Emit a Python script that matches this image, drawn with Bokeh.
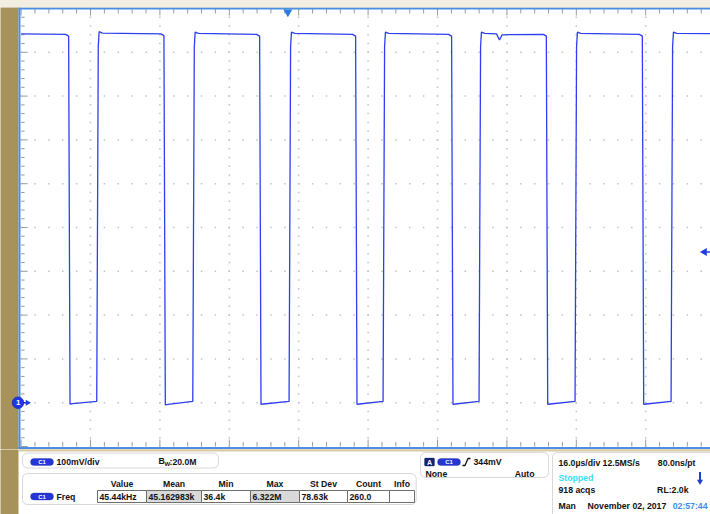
import numpy as np
from bokeh.plotting import figure
from bokeh.models import Range1d, BoxAnnotation, Spacer
from bokeh.layouts import column
from bokeh.embed import file_html
from bokeh.resources import INLINE
from bokeh.core.properties import value

time_per_div_us = 16.0
volts_per_div_mv = 100.0
n_hdiv = 10
n_vdiv = 10
ground_div_from_bottom = 1          # channel 1 ground marker is one division above bottom

fall_times_us = [11.16, 33.13, 55.19, 77.32, 99.45, 121.29, 143.42]
rise_times_us = [17.54, 39.68, 61.88, 83.55, 105.68, 127.81, 149.95]
high_level_mv = [842, 843, 842, 842, 842, 842, 842, 842]
low_start_mv = [-3, -5, -4, -4, -4, -4, -4]
low_end_mv = [3, 3, 3, 3, 3, 3, 3]
dip_times_us = [109.6, 110.3, 110.9]
dip_levels_mv = [842, 828, 840]

trigger_time_us = 61.5
trigger_level_mv = 344

# readout texts
ch_label = "C1"
ch_scale_text = "100mV/div"
bw_text = ":20.0M"
meas_name = "Freq"
meas_headers = ["Value", "Mean", "Min", "Max", "St Dev", "Count", "Info"]
meas_values = ["45.44kHz", "45.162983k", "36.4k", "6.322M", "78.63k", "260.0", ""]
trig_level_text = "344mV"
trig_coupling = "None"
trig_mode = "Auto"
timebase_text = "16.0\u00b5s/div"
sample_rate_text = "12.5MS/s"
ns_per_pt_text = "80.0ns/pt"
acq_state = "Stopped"
acq_count_text = "918 acqs"
record_length_text = "RL:2.0k"
trig_type_text = "Man"
date_text = "November 02, 2017"
time_text = "02:57:44"

# ---------------- styles ----------------
FONT = "Liberation Sans"
FSIZE = "8.7px"
BROWN = "#A8925C"
CREAM = "#F3EEE2"
BORDER_BLUE = "#4A8FE3"
TRACE = "#2C3EF0"
MARKER_BLUE = "#1F3FE0"
DOT = "#C2C2C2"
TICK = "#9A9A9A"
W = 710
FRAME_LEFT = 0

# ---------------- trace from the read edges ----------------
def build_trace():
    t = [0.0]
    v = [high_level_mv[0]]
    for i, (tf, tr) in enumerate(zip(fall_times_us, rise_times_us)):
        h = high_level_mv[i]
        hn = high_level_mv[i + 1]
        t += [tf - 0.9, tf - 0.2, tf + 0.12, tf + 0.7, tr - 0.1,
              tr + 0.25, tr + 0.45, tr + 1.2]
        v += [h - 1, h - 5, low_start_mv[i], low_start_mv[i] + 1, low_end_mv[i],
              hn - 30, hn + 4, hn + 1]
    t += [170.0]
    v += [high_level_mv[-1]]
    t += dip_times_us
    v += dip_levels_mv
    order = np.argsort(np.array(t), kind="stable")
    return list(np.array(t)[order]), list(np.array(v)[order])

trace_t, trace_v = build_trace()

# ---------------- top strip ----------------
top_strip = Spacer(width=W, height=7, styles={"background-color": CREAM})

# ---------------- scope screen figure ----------------
px_per_div_x = 69.4
px_per_div_y = 43.8
px_per_us = px_per_div_x / time_per_div_us
px_per_mv = px_per_div_y / volts_per_div_mv
grat_left_px = 20.6                  # page x of the left graticule edge
frame_w = W - FRAME_LEFT
frame_h = 442                        # page y 7 .. 449
x_start = (FRAME_LEFT - grat_left_px) / px_per_us
y_top = (n_vdiv - ground_div_from_bottom) * volts_per_div_mv
y_bottom = -ground_div_from_bottom * volts_per_div_mv
y_frame_top = y_top + 1 / px_per_mv  # graticule top is 1px below frame top

p = figure(width=W, height=442,
           x_range=Range1d(x_start, x_start + frame_w / px_per_us),
           y_range=Range1d(y_frame_top - frame_h / px_per_mv, y_frame_top),
           output_backend="svg", toolbar_location=None,
           x_axis_location=None, y_axis_location=None,
           min_border_left=FRAME_LEFT, min_border_right=0, min_border_top=0, min_border_bottom=0,
           border_fill_color=BROWN, background_fill_color=BROWN,
           outline_line_color=None)
p.grid.visible = False


def ux(px):
    """page x -> data time"""
    return (px - grat_left_px) / px_per_us


def uy(py):
    """page y -> data mV"""
    return y_top - (py - 8) / px_per_mv


# white screen area (left of it the brown strip stays)
p.quad(left=[ux(18)], right=[ux(W + 10)], bottom=[uy(470)], top=[uy(0)],
       fill_color="white", line_color=None)

t_end = n_hdiv * time_per_div_us
minor_t = np.arange(0, t_end + 0.01, time_per_div_us / 5)
minor_v = np.arange(y_bottom, y_top + 0.01, volts_per_div_mv / 5)
major_t = np.arange(time_per_div_us, t_end - 0.01, time_per_div_us)
major_v = np.arange(y_bottom + volts_per_div_mv, y_top - 0.01, volts_per_div_mv)

# dotted graticule
gx1, gy1 = np.meshgrid(major_t, minor_v)
gx2, gy2 = np.meshgrid(minor_t, major_v)
p.scatter(np.concatenate([gx1.ravel(), gx2.ravel()]),
          np.concatenate([gy1.ravel(), gy2.ravel()]),
          marker="square", size=1.5, color=DOT, line_color=None)

# edge ticks (inward from the screen border)
is_major_t = (np.round(minor_t / (time_per_div_us / 5)) % 5 == 0)
is_major_v = (np.round((minor_v - y_bottom) / (volts_per_div_mv / 5)) % 5 == 0)
p.segment(x0=minor_t, y0=[y_top] * len(minor_t), x1=minor_t,
          y1=y_top - np.where(is_major_t, 7, 5) / px_per_mv, line_color=TICK, line_width=1)
p.segment(x0=minor_t, y0=[y_bottom] * len(minor_t), x1=minor_t,
          y1=y_bottom + np.where(is_major_t, 7, 4.5) / px_per_mv, line_color=TICK, line_width=1)
p.segment(x0=[0] * len(minor_v), y0=minor_v, x1=np.where(is_major_v, 6.5, 3.5) / px_per_us,
          y1=minor_v, line_color=TICK, line_width=1)

# screen border lines
p.segment(x0=[ux(19)], y0=[uy(7)], x1=[ux(19)], y1=[uy(449)], line_color=BORDER_BLUE, line_width=2)
p.segment(x0=[ux(18)], y0=[uy(8)], x1=[ux(W + 5)], y1=[uy(8)], line_color=BORDER_BLUE, line_width=2)
p.segment(x0=[ux(18)], y0=[uy(447.5)], x1=[ux(W + 5)], y1=[uy(447.5)], line_color=BORDER_BLUE,
          line_width=2)

# waveform
p.line(trace_t, trace_v, line_color=TRACE, line_width=1.3)

# trigger position marker (top)
p.scatter([trigger_time_us], [y_top - 3.5 / px_per_mv], marker="inverted_triangle",
          size=9, color="#2B7DE0", line_color=None)
# trigger level marker (right)
p.segment(x0=[ux(704)], y0=[trigger_level_mv], x1=[ux(W + 2)],
          y1=[trigger_level_mv], line_color=MARKER_BLUE, line_width=1.5)
p.scatter([ux(704)], [trigger_level_mv], marker="triangle",
          angle=np.pi / 2, size=8, color=MARKER_BLUE, line_color=None)

# ground marker (left)
p.segment(x0=[ux(17)], y0=[0], x1=[ux(27)], y1=[0], line_color=MARKER_BLUE, line_width=1.5)
p.scatter([ux(27)], [0], marker="triangle", angle=-np.pi / 2, size=6,
          color=MARKER_BLUE, line_color=None)
p.scatter([ux(17.5)], [0], marker="circle", size=11.5, color="#1F35E6", line_color="#1428B0",
          line_width=0.8)
p.text(x=[ux(17.6)], y=[0], text=["1"], text_color="white", text_font=value(FONT),
       text_font_style="bold", text_font_size="8px", text_align="center", text_baseline="middle")

# ---------------- readout panel ----------------
P = figure(width=W, height=65, x_range=Range1d(FRAME_LEFT, W), y_range=Range1d(-514, -449),
           output_backend="svg", toolbar_location=None,
           x_axis_location=None, y_axis_location=None,
           min_border_left=FRAME_LEFT, min_border_right=0, min_border_top=0, min_border_bottom=0,
           border_fill_color=BROWN, background_fill_color=BROWN, outline_line_color=None)
P.grid.visible = False


def ry(y):
    return -y


def rbox(l, r, t, b, fill="white", line="#7E7E7E", radius=5, lw=1):
    P.add_layout(BoxAnnotation(left=l, right=r, top=ry(t), bottom=ry(b), fill_color=fill,
                               fill_alpha=1, line_color=line, line_width=lw,
                               border_radius=radius, level="underlay"))


def txt(x, y, s, color="#111111", size=FSIZE, align="left", style="bold"):
    P.text(x=[x], y=[ry(y)], text=[s], text_color=color, text_font=value(FONT),
           text_font_size=size, text_font_style=style, text_align=align,
           text_baseline="middle")


def pill(l, t, label):
    rbox(l, l + 23, t, t + 7, fill="#2436D6", line="#16239A", radius=4)
    txt(l + 11.5, t + 3.5, label, color="white", size="6px", align="center")


# white panel background and thin tan line below the screen
rbox(18, W + 10, 440, 530, fill="white", line=None, radius=0)
rbox(18, W + 10, 448.5, 451, fill="#D9CBA6", line=None, radius=0)

# box 1: channel
rbox(22, 218, 452.5, 467.5)
pill(30, 458, ch_label)
txt(56, 461.5, ch_scale_text)
txt(158, 460.5, "B")
txt(164, 463.5, "W", size="6px")
txt(169, 461.5, bw_text)

# box 2: measurement
rbox(22, 415.7, 473, 504)
cell_edges = [97, 146, 201, 250, 299, 347, 389, 414]
shaded = [False, True, False, True, False, False, False]
P.quad(left=cell_edges[:-1], right=cell_edges[1:], top=[ry(490)] * 7, bottom=[ry(502)] * 7,
       fill_color=["#D9D9D9" if s else "white" for s in shaded], line_color="#6E6E6E",
       line_width=1)
for i, h in enumerate(meas_headers):
    txt((cell_edges[i] + cell_edges[i + 1]) / 2, 483, h, align="center")
for i, val in enumerate(meas_values):
    txt(cell_edges[i] + 2, 496.3, val)
pill(30, 492.5, ch_label)
txt(56, 496.3, meas_name)

# box 3: trigger
rbox(420, 548, 452, 477)
rbox(424, 434, 457.5, 465.5, fill="#15226E", line="#15226E", radius=1)
txt(429, 461.5, "A", color="white", size="7px", align="center")
pill(437, 458, ch_label)
P.line(x=[462, 464.5, 467.5, 470], y=[ry(465), ry(465), ry(458), ry(458)],
       line_color="#111111", line_width=1.3)
txt(473, 461.5, trig_level_text)
txt(425, 473, trig_coupling)
txt(534, 473, trig_mode, align="right")

# box 4: timebase / acquisition
rbox(552, 740, 452, 540)
txt(558, 462, timebase_text + " " + sample_rate_text)
txt(695, 462, ns_per_pt_text, align="right")
txt(558, 477, acq_state, color="#2FE3F2")
txt(558, 489.5, acq_count_text)
txt(688, 489.5, record_length_text, align="right")
txt(558, 505, trig_type_text)
txt(587, 505, date_text)
txt(707, 505, time_text, color="#3A8EE6", align="right")
P.segment(x0=[699.5], y0=[ry(471.5)], x1=[699.5], y1=[ry(480)], line_color="#1F3FD0", line_width=2)
P.scatter([699.5], [ry(481)], marker="inverted_triangle", size=6, color="#1F3FD0", line_color=None)

layout = column(top_strip, p, P, spacing=0)
open("out.html", "w").write(file_html(layout, INLINE))
